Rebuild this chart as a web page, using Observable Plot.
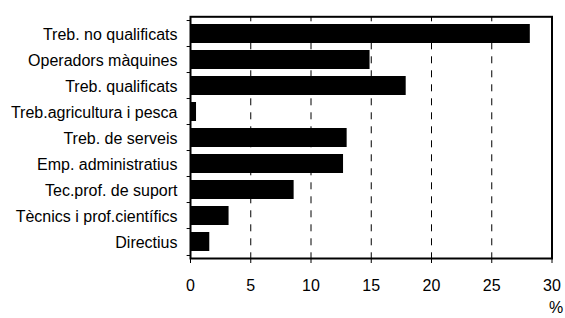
<!DOCTYPE html>
<html>
<head>
<meta charset="utf-8">
<script src="https://cdn.jsdelivr.net/npm/d3@7"></script>
<script src="https://cdn.jsdelivr.net/npm/@observablehq/plot@0.6"></script>
<style>
  html, body { margin: 0; padding: 0; background: #fff; }
  #chart svg { display: block; }
</style>
</head>
<body>
<div id="chart"></div>
<script>
const categories = [
  "Treb. no qualificats",
  "Operadors màquines",
  "Treb. qualificats",
  "Treb.agricultura i pesca",
  "Treb. de serveis",
  "Emp. administratius",
  "Tec.prof. de suport",
  "Tècnics i prof.científics",
  "Directius"
];
const values = [28.2, 14.9, 17.9, 0.5, 13.0, 12.7, 8.6, 3.2, 1.6];
const xTicks = [0, 5, 10, 15, 20, 25, 30];
const gridTicks = [5, 10, 15, 20, 25];
const unitLabel = "%";

const data = categories.map((c, i) => ({category: c, value: values[i]}));
const lastCat = [categories[categories.length - 1]];

const plot = Plot.plot({
  width: 565,
  height: 318,
  marginLeft: 190,
  marginRight: 13.5,
  marginTop: 16.3,
  marginBottom: 60,
  style: {fontFamily: "'Liberation Sans', Arial, sans-serif", fontSize: "16px", color: "#000", background: "#fff"},
  x: {domain: [0, 30]},
  y: {domain: categories, paddingInner: 0.28, paddingOuter: 0.14},
  marks: [
    Plot.ruleX(gridTicks, {stroke: "#000", strokeWidth: 1, strokeDasharray: "7,7", strokeDashoffset: 2}),
    Plot.barX(data, {x: "value", y: "category", fill: "#000"}),
    Plot.ruleY(categories, {y: d => d, x1: -0.28, x2: 0, dy: -13.48, stroke: "#000"}),
    Plot.ruleY(lastCat, {y: d => d, x1: -0.28, x2: 0, dy: 13.48, stroke: "#000"}),
    Plot.frame({stroke: "#000", strokeWidth: 2}),
    Plot.axisY({tickSize: 0, tickPadding: 13, label: null, dy: 1, fontSize: 16}),
    Plot.axisX({ticks: xTicks, tickSize: 5, tickPadding: 16, label: null, fontSize: 16, tickFormat: d => String(d)}),
    Plot.text([unitLabel], {text: d => d, frameAnchor: "bottom-right", dx: 4, dy: 43, lineAnchor: "top", textAnchor: "middle", fontSize: 16, fill: "#000"})
  ]
});
document.getElementById("chart").appendChild(plot);
</script>
</body>
</html>
